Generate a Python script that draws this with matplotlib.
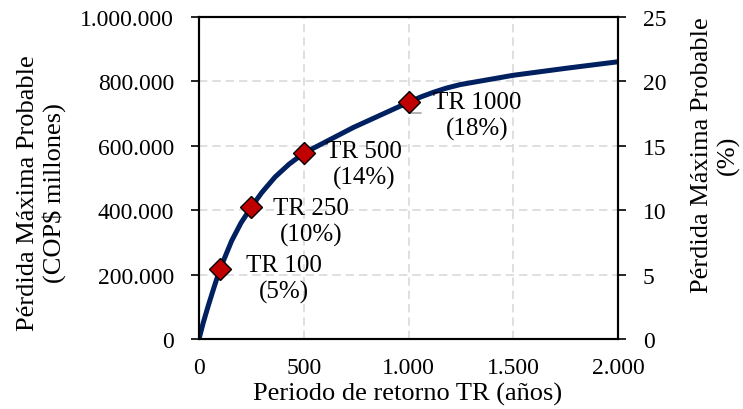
import numpy as np
import matplotlib
matplotlib.use("Agg")
import matplotlib.pyplot as plt
from matplotlib.ticker import FuncFormatter

plt.rcParams['font.family'] = ['Liberation Serif', 'DejaVu Serif']

# return period (years) and probable maximum loss (COP$ millions)
tr_curve = [0, 20, 44, 70, 100, 156, 200, 250, 300, 363, 430, 500, 737, 1000, 1060, 1118,
            1180, 1246, 1500, 1755, 2000]
pml_curve = [0, 50000, 103000, 157000, 217000, 305000, 360000, 410000, 455000, 503000,
             543000, 577000, 657000, 735000, 752000, 766000, 779000, 790000, 819000, 841000,
             861000]

# highlighted return periods
tr_pts = [100, 250, 500, 1000]
pml_pts = [217000, 411000, 578000, 735000]
pct_labels = ["5%", "10%", "14%", "18%"]
# label offsets in pixels (dx, dy)
offsets = [(64, -9), (60, -15), (60, -12), (69, -13)]

W, H = 743, 410
fig = plt.figure(figsize=(W / 100, H / 100), dpi=100)
ax = fig.add_axes([199 / W, 70 / H, 419 / W, 322 / H])

ax.plot(tr_curve, pml_curve, color='#002060', lw=3.6, zorder=3,
        solid_capstyle='butt', solid_joinstyle='round')
ax.plot(tr_pts, pml_pts, linestyle='none', marker='D', ms=11, mfc='#c00000',
        mec='black', mew=1.0, zorder=4)

for x, y, p, (dx, dy) in zip(tr_pts, pml_pts, pct_labels, offsets):
    kw = {}
    if x == 1000:
        # small grey leader line seen on the last label
        kw['arrowprops'] = dict(arrowstyle='-', color='#a6a6a6', lw=1.2, shrinkA=7, shrinkB=0,
                                relpos=(0, 0.55),
                                connectionstyle='angle,angleA=0,angleB=90,rad=0')
    ax.annotate("TR %d\n(%s)" % (x, p), xy=(x, y), xytext=(dx * 0.72, dy * 0.72),
                textcoords='offset points', ha='center', va='center',
                fontsize=18, linespacing=1.22, zorder=3.5, **kw)

ax.set_xlim(0, 2000)
ax.set_ylim(0, 1000000)
ax.set_xticks([0, 500, 1000, 1500, 2000])
ax.set_yticks(np.arange(0, 1000001, 200000))

fmt = FuncFormatter(lambda v, pos: "{:,}".format(int(v)).replace(",", "."))
ax.xaxis.set_major_formatter(fmt)
ax.yaxis.set_major_formatter(fmt)

ax.grid(True, color='#d9d9d9', linestyle=(0, (5, 3)), lw=1.2)
ax.set_axisbelow(True)
ax.tick_params(axis='x', length=0, labelsize=17, pad=13)
ax.tick_params(axis='y', length=6, width=1.2, labelsize=17, pad=12)
for s in ax.spines.values():
    s.set_linewidth(1.5)

ax2 = ax.twinx()
ax2.set_ylim(0, 25)
ax2.set_yticks(np.arange(0, 26, 5))
ax2.tick_params(axis='y', length=6, width=1.2, labelsize=17, pad=12)
for s in ax2.spines.values():
    s.set_linewidth(1.5)

fig.text(407.5 / W, 1 - 394 / H, "Periodo de retorno TR (años)", fontsize=19,
         ha='center', va='center')
fig.text(41.5 / W, 1 - 193 / H, "Pérdida Máxima Probable\n(COP$ millones)", fontsize=19,
         rotation=90, ha='center', va='center', linespacing=1.15)
fig.text(715.5 / W, 1 - 155 / H, "Pérdida Máxima Probable\n(%)", fontsize=19,
         rotation=90, ha='center', va='center', linespacing=1.2)

fig.savefig("out.png", dpi=100)
